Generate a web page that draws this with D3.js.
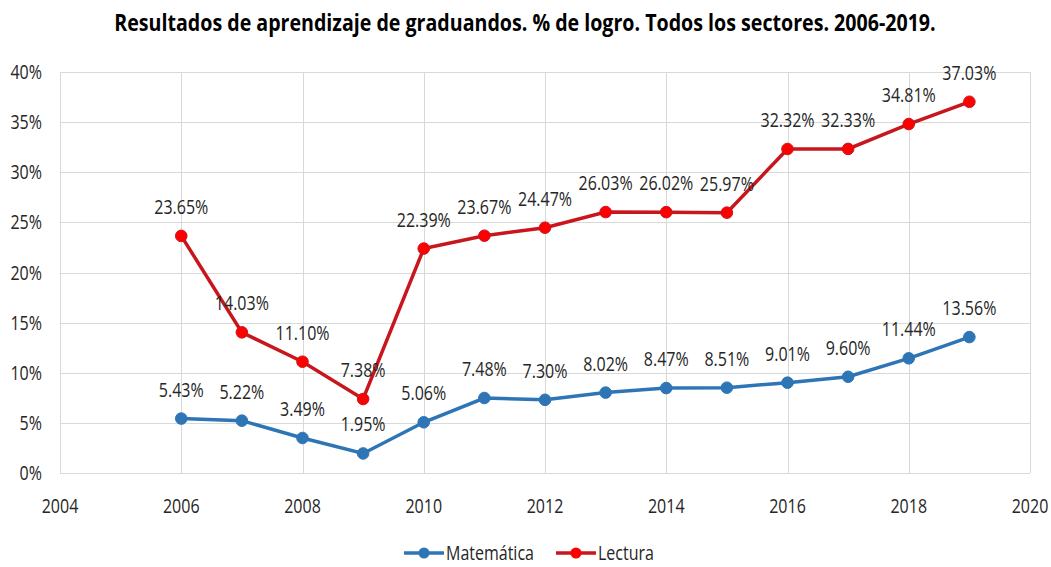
<!DOCTYPE html>
<html>
<head>
<meta charset="utf-8">
<script src="https://cdn.jsdelivr.net/npm/d3@7"></script>
<style>
  body { margin: 0; background: #fff; }
  text { font-family: "Open Sans", "Noto Sans", sans-serif; fill: #262626; }
</style>
</head>
<body>
<div id="chart"></div>
<script>
const years = [2006, 2007, 2008, 2009, 2010, 2011, 2012, 2013, 2014, 2015, 2016, 2017, 2018, 2019];
const matematica = [5.43, 5.22, 3.49, 1.95, 5.06, 7.48, 7.30, 8.02, 8.47, 8.51, 9.01, 9.60, 11.44, 13.56];
const lectura = [23.65, 14.03, 11.10, 7.38, 22.39, 23.67, 24.47, 26.03, 26.02, 25.97, 32.32, 32.33, 34.81, 37.03];
const xTicks = [2004, 2006, 2008, 2010, 2012, 2014, 2016, 2018, 2020];
const yTicks = [0, 5, 10, 15, 20, 25, 30, 35, 40];
const seriesNames = ['Matemática', 'Lectura'];

const width = 1051, height = 567;
const margin = {top: 72, right: 21, bottom: 94, left: 60};
const squeeze = 0.8; // the source text is narrow

const svg = d3.select('#chart')
    .append('svg')
    .attr('width', width)
    .attr('height', height);

const x = d3.scaleLinear().domain([2004, 2020]).range([margin.left, width - margin.right]);
const y = d3.scaleLinear().domain([0, 40]).range([height - margin.bottom, margin.top]);

// squeezed text helper
function narrowText(g, tx, ty, str, anchor, size, weight, sx) {
    return g.append('text')
        .attr('transform', `translate(${tx},${ty}) scale(${sx || squeeze},1)`)
        .attr('text-anchor', anchor)
        .attr('font-size', size)
        .attr('font-weight', weight || 'normal')
        .text(str);
}

// title, squeezed to the reference width
const title = narrowText(svg, 525, 31,
    'Resultados de aprendizaje de graduandos. % de logro. Todos los sectores. 2006-2019.',
    'middle', 24, 'bold', 1).style('fill', '#000');
const titleW = title.node().getComputedTextLength();
title.attr('transform', `translate(525,31) scale(${822 / titleW},1)`);

// grid
const grid = svg.append('g').attr('stroke', '#d9d9d9').attr('stroke-width', 1);
grid.selectAll('.h').data(yTicks).enter().append('line')
    .attr('x1', x(2004)).attr('x2', x(2020))
    .attr('y1', d => Math.round(y(d)) + 0.5).attr('y2', d => Math.round(y(d)) + 0.5);
grid.selectAll('.v').data(xTicks).enter().append('line')
    .attr('y1', y(0)).attr('y2', y(40))
    .attr('x1', d => Math.round(x(d)) + 0.5).attr('x2', d => Math.round(x(d)) + 0.5);

// axis labels
const axisG = svg.append('g');
yTicks.forEach(t => narrowText(axisG, 42, y(t) + 7, t + '%', 'end', 20));
xTicks.forEach(t => narrowText(axisG, x(t), 513, t, 'middle', 20));

// series
const series = [
    {name: seriesNames[0], values: matematica, line: '#2e75b6', dot: '#2e75b6'},
    {name: seriesNames[1], values: lectura, line: '#c8161d', dot: '#ff0000'}
];

const line = d3.line()
    .x((d, i) => x(years[i]))
    .y(d => y(d));

series.forEach(s => {
    const g = svg.append('g');
    g.append('path')
        .datum(s.values)
        .attr('fill', 'none')
        .attr('stroke', s.line)
        .attr('stroke-width', 3.5)
        .attr('d', line);
    g.selectAll('circle').data(s.values).enter().append('circle')
        .attr('cx', (d, i) => x(years[i]))
        .attr('cy', d => y(d))
        .attr('r', 5.8)
        .attr('fill', s.dot)
        .attr('stroke', s.line)
        .attr('stroke-width', 1);
    s.values.forEach((v, i) => {
        narrowText(g, x(years[i]), y(v) - 22, v.toFixed(2) + '%', 'middle', 20);
    });
});

// legend
const legend = svg.append('g');
let lx = 404;
series.forEach(s => {
    legend.append('line')
        .attr('x1', lx).attr('x2', lx + 40)
        .attr('y1', 553).attr('y2', 553)
        .attr('stroke', s.line).attr('stroke-width', 3.5);
    legend.append('circle')
        .attr('cx', lx + 20).attr('cy', 553).attr('r', 5.5)
        .attr('fill', s.dot);
    const t = narrowText(legend, lx + 42, 560, s.name, 'start', 20);
    lx += 42 + t.node().getBBox().width * squeeze + 22;
});
</script>
</body>
</html>
